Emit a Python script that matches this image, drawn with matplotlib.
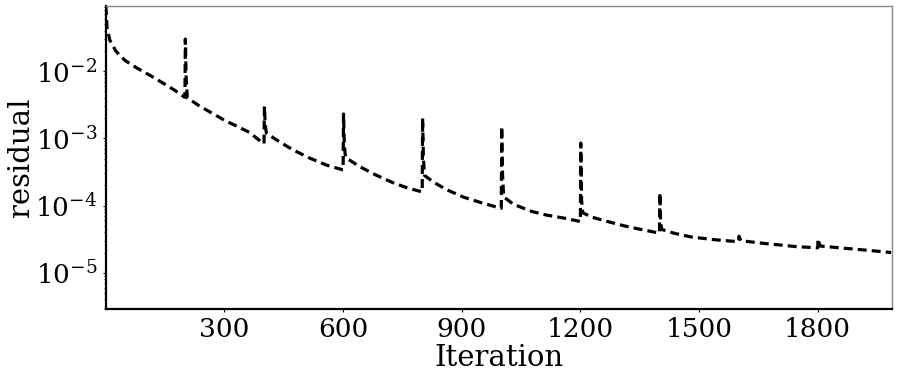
import matplotlib
matplotlib.use('Agg')
import matplotlib.pyplot as plt

# residual history (spikes at every 200 iterations)
iterations = [0, 3, 10, 25, 48, 80, 111, 140, 174, 199,
              200, 201, 203, 206, 238, 300, 363, 399,
              400, 401, 403, 406, 430, 472, 515, 558, 599,
              600, 601, 603, 606, 625, 642, 680, 725, 760, 799,
              800, 801, 803, 806, 830, 864, 905, 950, 999,
              1000, 1001, 1003, 1006, 1030, 1076, 1115, 1159, 1199,
              1200, 1201, 1203, 1206, 1230, 1268, 1310, 1354, 1399,
              1400, 1401, 1403, 1406, 1435, 1481, 1540, 1599,
              1600, 1601, 1606, 1660, 1745, 1799,
              1800, 1801, 1806, 1873, 1930, 1986]
residual = [9.3e-2, 4.5e-2, 2.9e-2, 2.0e-2, 1.45e-2, 1.1e-2, 8.7e-3, 6.9e-3, 5.2e-3, 4.1e-3,
            4.1e-3, 3.0e-2, 8.0e-3, 4.0e-3, 3.0e-3, 1.86e-3, 1.23e-3, 8.3e-4,
            8.3e-4, 3.0e-3, 1.6e-3, 1.2e-3, 9.6e-4, 6.8e-4, 5.1e-4, 4.0e-4, 3.4e-4,
            3.4e-4, 2.3e-3, 8.0e-4, 5.2e-4, 4.4e-4, 3.8e-4, 2.9e-4, 2.2e-4, 1.85e-4, 1.6e-4,
            1.6e-4, 2.0e-3, 5.0e-4, 2.8e-4, 2.2e-4, 1.7e-4, 1.33e-4, 1.1e-4, 9.1e-5,
            9.1e-5, 1.5e-3, 3.0e-4, 1.35e-4, 1.05e-4, 8.2e-5, 7.2e-5, 6.5e-5, 5.8e-5,
            5.8e-5, 8.5e-4, 1.2e-4, 7.8e-5, 6.7e-5, 5.8e-5, 5.0e-5, 4.4e-5, 3.9e-5,
            3.9e-5, 1.55e-4, 5.5e-5, 4.4e-5, 3.9e-5, 3.4e-5, 3.1e-5, 2.9e-5,
            2.9e-5, 3.5e-5, 3.0e-5, 2.75e-5, 2.45e-5, 2.35e-5,
            2.35e-5, 3.2e-5, 2.5e-5, 2.3e-5, 2.15e-5, 2.0e-5]

x_ticks = [300, 600, 900, 1200, 1500, 1800]
y_ticks = [1e-5, 1e-4, 1e-3, 1e-2]

plt.rcParams['font.family'] = ['DejaVu Serif']
plt.rcParams['mathtext.fontset'] = 'dejavuserif'

fig = plt.figure(figsize=(8.97, 3.79), dpi=100)
ax = fig.add_axes([0.118, 0.185, 0.876, 0.799])

ax.plot(iterations, residual, color='black', linestyle='--', linewidth=2.3, dashes=(2.8, 1.6))
ax.set_yscale('log')
ax.set_xlim(0, 1987)
ax.set_ylim(2.9e-6, 9.3e-2)

ax.set_xticks(x_ticks)
ax.set_xticklabels([str(t) for t in x_ticks])
ax.set_yticks(y_ticks)
ax.set_yticklabels([r'$10^{%d}$' % e for e in (-5, -4, -3, -2)])
ax.tick_params(axis='both', which='major', labelsize=19, length=2.5, width=0.8, pad=3.5)
ax.tick_params(axis='y', which='minor', length=1.5, width=0.6)

ax.set_xlabel('Iteration', fontsize=21, labelpad=1)
ax.set_ylabel('residual', fontsize=21, labelpad=0)

for side in ('left', 'bottom'):
    ax.spines[side].set_color('black')
    ax.spines[side].set_linewidth(1.6)
for side in ('top', 'right'):
    ax.spines[side].set_color('#888888')
    ax.spines[side].set_linewidth(1.0)

fig.savefig('out.png', dpi=100)
plt.close(fig)
